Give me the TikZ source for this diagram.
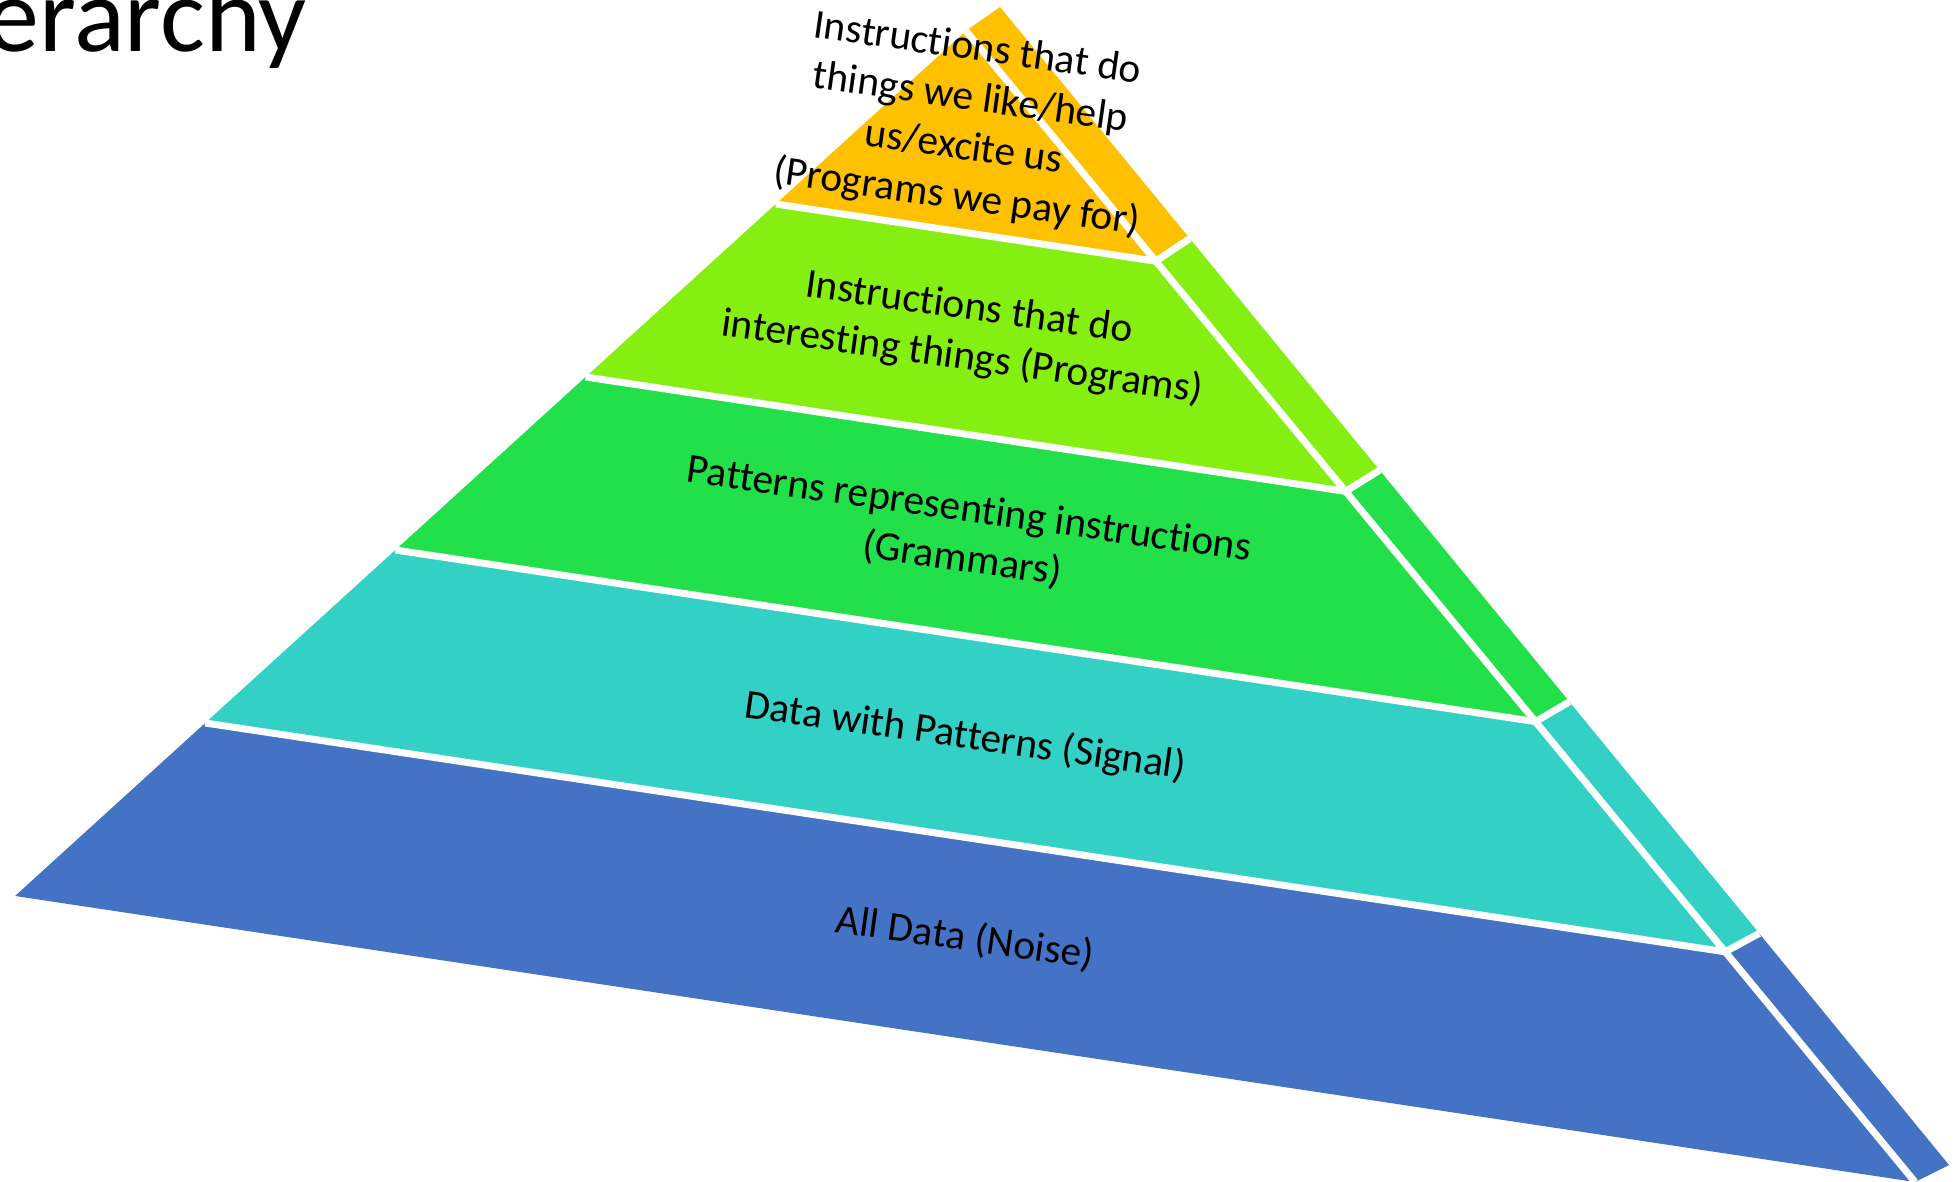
\documentclass[tikz,border=0pt]{standalone}
\usepackage{fontspec}
\setmainfont{Carlito}[Ligatures=CommonOff]
\usepackage{xcolor}
\definecolor{tierGold}{HTML}{FFC000}
\definecolor{tierLime}{HTML}{86EF12}
\definecolor{tierGreen}{HTML}{22E049}
\definecolor{tierTeal}{HTML}{33D1C5}
\definecolor{tierBlue}{HTML}{4472C4}
\usepackage{tikz}
\usetikzlibrary{calc,positioning}
\tikzset{%
  layerText/.style={%
    align=center,
    rotate=-8,
    inner sep=0pt,
    text=black,
    font=\fontsize{20.7}{25}\selectfont
  },
  gapLine/.style={%
    draw=white,
    line width=3.5pt,
    line join=round
  },
  titleText/.style={%
    anchor=base west,
    inner sep=0pt,
    font=\fontsize{53}{62}\selectfont
  }
}

\begin{document}
\begin{tikzpicture}[x=0.5pt,y=-0.5pt]
  \useasboundingbox (0,0) rectangle (1954,1182);

  % corners of the front face and of the side strip
  \coordinate (apex) at (966,31);
  \coordinate (baseL) at (15,896);
  \coordinate (baseR) at (1915,1182);
  \coordinate (sideTop) at (1000,7);
  \coordinate (sideBot) at (1949,1165);
  \coordinate (baseM) at ($(baseL)!0.5!(baseR)$);

  % tier borders on the three edges
  \coordinate (l1) at ($(apex)!0.2!(baseL)$);
  \coordinate (l2) at ($(apex)!0.4!(baseL)$);
  \coordinate (l3) at ($(apex)!0.6!(baseL)$);
  \coordinate (l4) at ($(apex)!0.8!(baseL)$);
  \coordinate (r1) at ($(apex)!0.2!(baseR)$);
  \coordinate (r2) at ($(apex)!0.4!(baseR)$);
  \coordinate (r3) at ($(apex)!0.6!(baseR)$);
  \coordinate (r4) at ($(apex)!0.8!(baseR)$);
  \coordinate (o1) at ($(sideTop)!0.2!(sideBot)$);
  \coordinate (o2) at ($(sideTop)!0.4!(sideBot)$);
  \coordinate (o3) at ($(sideTop)!0.6!(sideBot)$);
  \coordinate (o4) at ($(sideTop)!0.8!(sideBot)$);

  % front face
  \fill[tierGold] (apex) -- (l1) -- (r1) -- cycle;
  \fill[tierLime] (l1) -- (l2) -- (r2) -- (r1) -- cycle;
  \fill[tierGreen] (l2) -- (l3) -- (r3) -- (r2) -- cycle;
  \fill[tierTeal] (l3) -- (l4) -- (r4) -- (r3) -- cycle;
  \fill[tierBlue] (l4) -- (baseL) -- (baseR) -- (r4) -- cycle;

  % side strip
  \fill[tierGold] (apex) -- (r1) -- (o1) -- (sideTop) -- cycle;
  \fill[tierLime] (r1) -- (r2) -- (o2) -- (o1) -- cycle;
  \fill[tierGreen] (r2) -- (r3) -- (o3) -- (o2) -- cycle;
  \fill[tierTeal] (r3) -- (r4) -- (o4) -- (o3) -- cycle;
  \fill[tierBlue] (r4) -- (baseR) -- (sideBot) -- (o4) -- cycle;

  % white seams
  \draw[gapLine] (apex) -- (baseR);
  \draw[gapLine] (l1) -- (r1) -- (o1);
  \draw[gapLine] (l2) -- (r2) -- (o2);
  \draw[gapLine] (l3) -- (r3) -- (o3);
  \draw[gapLine] (l4) -- (r4) -- (o4);

  % labels
  \node[layerText, yshift=4pt] (tPaid) at ($(apex)!0.1!(baseM)$)
    {Instructions that do\\things we like/help\\us/excite us\\(Programs we pay for)};
  \node[layerText] (tProgram) at ($(apex)!0.3!(baseM)$)
    {Instructions that do\\interesting things (Programs)};
  \node[layerText] (tGrammar) at ($(apex)!0.5!(baseM)$)
    {Patterns representing instructions\\(Grammars)};
  \node[layerText] (tSignal) at ($(apex)!0.7!(baseM)$)
    {Data with Patterns (Signal)};
  \node[layerText] (tNoise) at ($(apex)!0.9!(baseM)$)
    {All Data (Noise)};

  \node[titleText] (title) at (-14,52) {erarchy};
\end{tikzpicture}
\end{document}
